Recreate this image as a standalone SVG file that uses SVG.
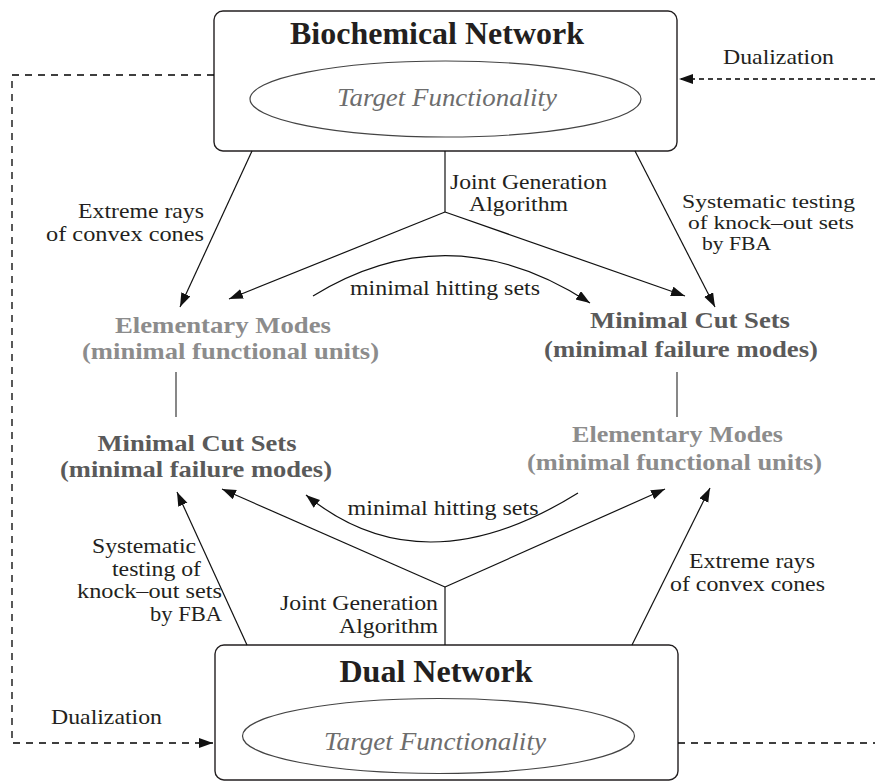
<svg xmlns="http://www.w3.org/2000/svg" width="875" height="782" viewBox="0 0 875 782">
<style>
text{font-family:"Liberation Serif","Times New Roman",serif;}
.lbl{font-size:21px;fill:#231f20;}
.sm{font-size:19.5px;}
.title{font-size:31px;font-weight:bold;fill:#231f20;}
.tf{font-size:25px;font-style:italic;fill:#6d6d6d;}
.em{font-size:24px;font-weight:bold;fill:#8c8c8c;}
.mcs{font-size:24px;font-weight:bold;fill:#5a5a5a;}
.box{fill:#fff;stroke:#231f20;stroke-width:1.4;}
.ell{fill:none;stroke:#444;stroke-width:1.2;}
.c{fill:none;stroke:#111;stroke-width:1.2;}
.link{fill:none;stroke:#555;stroke-width:1.4;}
.d1{fill:none;stroke:#000;stroke-width:1.3;stroke-dasharray:7 6;}
.d2{fill:none;stroke:#000;stroke-width:1.3;stroke-dasharray:5 4;}
</style>
<defs>
<marker id="ah" markerUnits="userSpaceOnUse" markerWidth="16" markerHeight="12" refX="14" refY="5" orient="auto">
<path d="M0,0 L14,5 L0,10 Z" fill="#111"/>
</marker>
</defs>

<g id="top-network">
<rect class="box" x="214" y="11" width="463" height="140" rx="9"/>
<text class="title" x="437" y="44" text-anchor="middle" textLength="294" lengthAdjust="spacingAndGlyphs">Biochemical Network</text>
<ellipse class="ell" cx="445.5" cy="99" rx="195.5" ry="38"/>
<text class="tf" x="447" y="106" text-anchor="middle" textLength="220" lengthAdjust="spacingAndGlyphs">Target Functionality</text>
</g>

<g id="dual-network">
<rect class="box" x="215" y="645" width="463" height="135" rx="9"/>
<text class="title" x="436" y="682" text-anchor="middle" textLength="193" lengthAdjust="spacingAndGlyphs">Dual Network</text>
<ellipse class="ell" cx="438.5" cy="736" rx="196" ry="37.5"/>
<text class="tf" x="435" y="750" text-anchor="middle" textLength="222" lengthAdjust="spacingAndGlyphs">Target Functionality</text>
</g>

<g id="em-top">
<text class="em" x="223" y="333" text-anchor="middle" textLength="216" lengthAdjust="spacingAndGlyphs">Elementary Modes</text>
<text class="em" x="230.5" y="359" text-anchor="middle" textLength="297" lengthAdjust="spacingAndGlyphs">(minimal functional units)</text>
</g>
<g id="mcs-top">
<text class="mcs" x="690" y="328" text-anchor="middle" textLength="200" lengthAdjust="spacingAndGlyphs">Minimal Cut Sets</text>
<text class="mcs" x="681" y="357" text-anchor="middle" textLength="274" lengthAdjust="spacingAndGlyphs">(minimal failure modes)</text>
</g>
<g id="mcs-bottom">
<text class="mcs" x="197" y="451" text-anchor="middle" textLength="199" lengthAdjust="spacingAndGlyphs">Minimal Cut Sets</text>
<text class="mcs" x="196" y="477" text-anchor="middle" textLength="272" lengthAdjust="spacingAndGlyphs">(minimal failure modes)</text>
</g>
<g id="em-bottom">
<text class="em" x="677.5" y="442" text-anchor="middle" textLength="211" lengthAdjust="spacingAndGlyphs">Elementary Modes</text>
<text class="em" x="674.5" y="470" text-anchor="middle" textLength="295" lengthAdjust="spacingAndGlyphs">(minimal functional units)</text>
</g>

<g id="connectors">
<path class="d1" d="M214,75 H12 V743 H213" marker-end="url(#ah)"/>
<path class="d2" d="M875,79 H679" marker-end="url(#ah)"/>
<path class="d1" d="M678,743 H875"/>
<line class="c" x1="252" y1="151" x2="180" y2="307" marker-end="url(#ah)"/>
<polyline class="c" points="445,151 445,212"/>
<line class="c" x1="445" y1="212" x2="229" y2="299" marker-end="url(#ah)"/>
<line class="c" x1="445" y1="212" x2="685" y2="296" marker-end="url(#ah)"/>
<line class="c" x1="635" y1="151" x2="715" y2="307" marker-end="url(#ah)"/>
<path class="c" d="M313,296 Q450,212 590,303" marker-end="url(#ah)"/>
<line class="link" x1="176" y1="372" x2="176" y2="417"/>
<line class="link" x1="677" y1="372" x2="677" y2="417"/>
<line class="c" x1="247" y1="645" x2="177" y2="492" marker-end="url(#ah)"/>
<polyline class="c" points="445,645 445,587"/>
<line class="c" x1="445" y1="587" x2="222" y2="489" marker-end="url(#ah)"/>
<line class="c" x1="445" y1="587" x2="665" y2="489" marker-end="url(#ah)"/>
<line class="c" x1="632" y1="645" x2="710" y2="488" marker-end="url(#ah)"/>
<path class="c" d="M578,493 Q422,590 306,495" marker-end="url(#ah)"/>
</g>

<g id="labels">
<text class="lbl" x="723" y="64" textLength="111" lengthAdjust="spacingAndGlyphs">Dualization</text>
<text class="lbl" x="51" y="724" textLength="111" lengthAdjust="spacingAndGlyphs">Dualization</text>
<text class="lbl" x="204" y="218" text-anchor="end" textLength="126" lengthAdjust="spacingAndGlyphs">Extreme rays</text>
<text class="lbl" x="204" y="241" text-anchor="end" textLength="158" lengthAdjust="spacingAndGlyphs">of convex cones</text>
<text class="lbl" x="450" y="189" textLength="157" lengthAdjust="spacingAndGlyphs">Joint Generation</text>
<text class="lbl" x="469" y="211" textLength="99" lengthAdjust="spacingAndGlyphs">Algorithm</text>
<text class="lbl sm" x="682" y="208" textLength="173" lengthAdjust="spacingAndGlyphs">Systematic testing</text>
<text class="lbl sm" x="688" y="229" textLength="166" lengthAdjust="spacingAndGlyphs">of knock–out sets</text>
<text class="lbl sm" x="702" y="250" textLength="69" lengthAdjust="spacingAndGlyphs">by FBA</text>
<text class="lbl" x="445" y="295" text-anchor="middle" textLength="190" lengthAdjust="spacingAndGlyphs">minimal hitting sets</text>
<text class="lbl" x="443" y="515" text-anchor="middle" textLength="191" lengthAdjust="spacingAndGlyphs">minimal hitting sets</text>
<text class="lbl" x="196" y="553" text-anchor="end" textLength="104" lengthAdjust="spacingAndGlyphs">Systematic</text>
<text class="lbl" x="201" y="576" text-anchor="end" textLength="89" lengthAdjust="spacingAndGlyphs">testing of</text>
<text class="lbl" x="222" y="598" text-anchor="end" textLength="145" lengthAdjust="spacingAndGlyphs">knock–out sets</text>
<text class="lbl" x="222" y="621" text-anchor="end" textLength="72" lengthAdjust="spacingAndGlyphs">by FBA</text>
<text class="lbl" x="438" y="610" text-anchor="end" textLength="158" lengthAdjust="spacingAndGlyphs">Joint Generation</text>
<text class="lbl" x="438" y="633" text-anchor="end" textLength="99" lengthAdjust="spacingAndGlyphs">Algorithm</text>
<text class="lbl" x="689" y="568" textLength="126" lengthAdjust="spacingAndGlyphs">Extreme rays</text>
<text class="lbl" x="670" y="591" textLength="155" lengthAdjust="spacingAndGlyphs">of convex cones</text>
</g>
</svg>
